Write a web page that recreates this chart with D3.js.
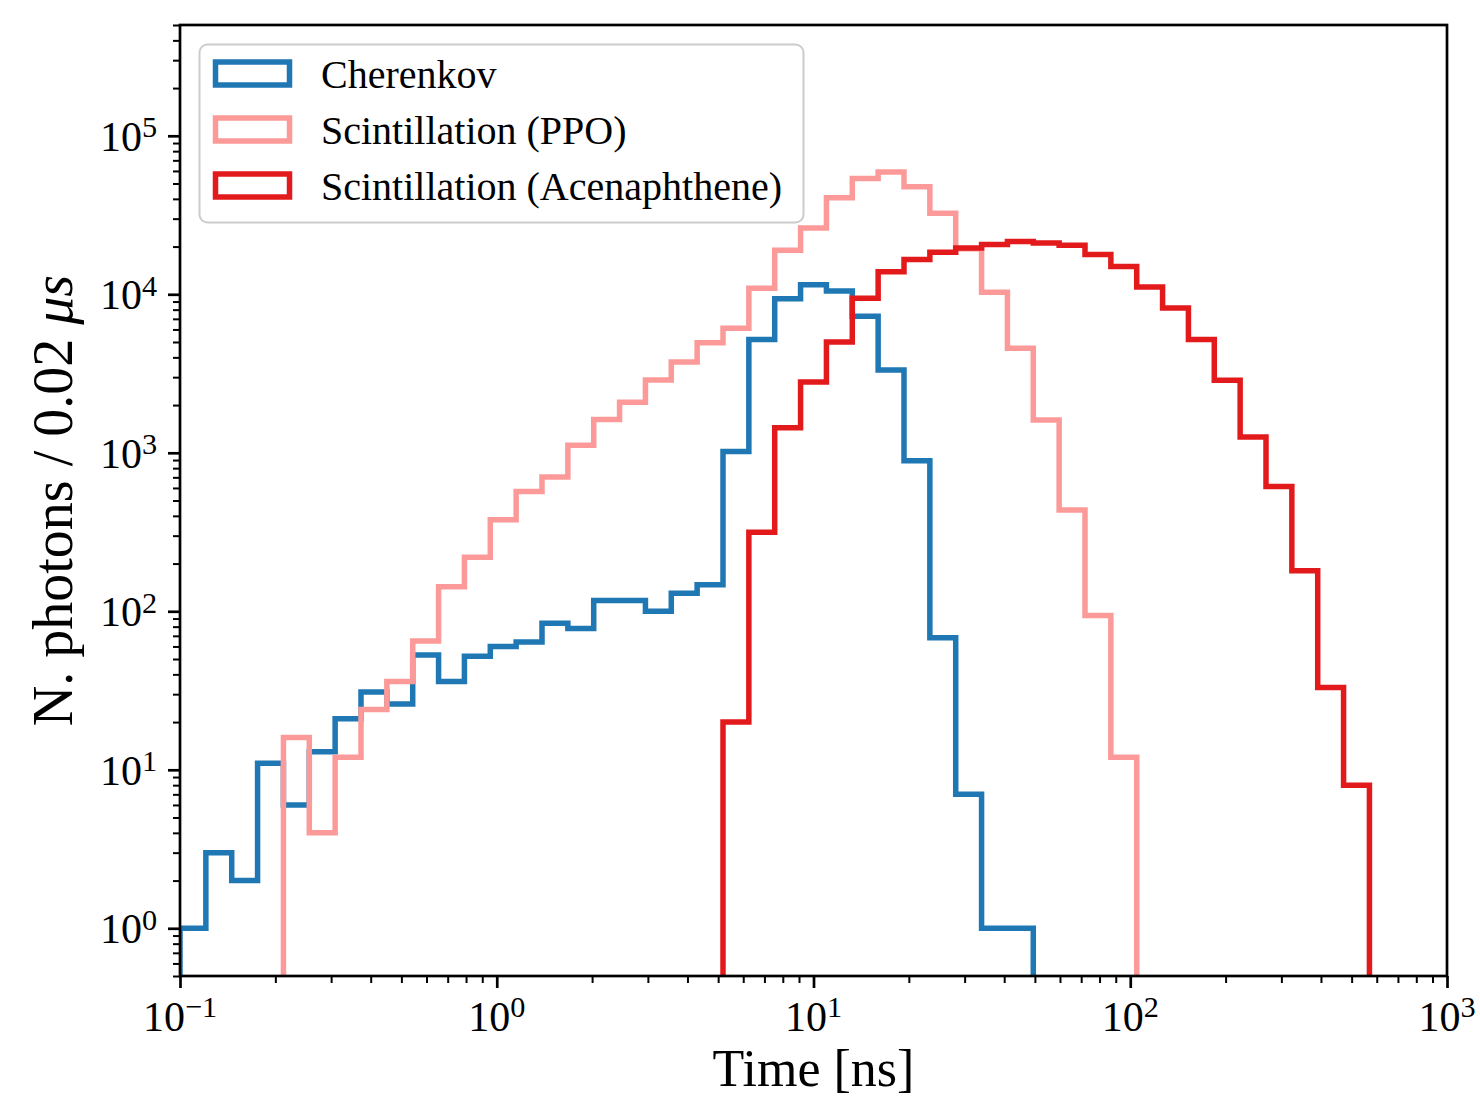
<!DOCTYPE html>
<html>
<head>
<meta charset="utf-8">
<script src="https://cdn.jsdelivr.net/npm/d3@7.9.0/dist/d3.min.js"></script>
<style>
  body { margin: 0; background: #fff; }
  text { font-family: "Liberation Serif", "Times New Roman", serif; fill: #000; }
</style>
</head>
<body>
<svg id="chart" width="1480" height="1102"></svg>
<script>
// bin edges: 50 log-spaced edges from 0.1 to 1000 ns (49 bins)
const binEdges = d3.range(50).map(i => Math.pow(10, -1 + i * 4 / 49));

// photons per bin
const cherenkov = [1, 3, 2, 11, 6, 13, 21, 31, 26, 53, 36, 52, 60, 64, 84, 78, 117, 117, 100, 130,
  147, 1020, 5190, 9370, 11500, 10500, 7280, 3330, 890, 68, 7, 1, 1, 0, 0, 0, 0, 0, 0, 0,
  0, 0, 0, 0, 0, 0, 0, 0, 0];
const ppo = [0, 0, 0, 0, 16, 4, 12, 24, 36, 65, 143, 219, 378, 570, 703, 1116, 1620, 2080, 2880, 3740,
  4940, 6100, 10900, 18950, 26200, 40700, 53800, 59100, 47700, 32500, 19400, 10300, 4560, 1610, 435, 94, 12, 0, 0, 0,
  0, 0, 0, 0, 0, 0, 0, 0, 0];
const acenaphthene = [0, 0, 0, 0, 0, 0, 0, 0, 0, 0, 0, 0, 0, 0, 0, 0, 0, 0, 0, 0,
  0, 20, 315, 1440, 2800, 5000, 9450, 13850, 16600, 18400, 19600, 20600, 21500, 21100, 20400, 17800, 15000, 11100, 8200, 5190,
  2865, 1260, 612, 180, 33, 8, 0, 0, 0];

const seriesNames = ['Cherenkov', 'Scintillation (PPO)', 'Scintillation (Acenaphthene)'];
const seriesColors = ['#1f77b4', '#fb9a99', '#e31a1c'];
const seriesValues = [cherenkov, ppo, acenaphthene];

const xTickExps = [-1, 0, 1, 2, 3];
const yTickExps = [0, 1, 2, 3, 4, 5];

const plotLeft = 180, plotRight = 1447, plotTop = 25, plotBottom = 976;

const svg = d3.select('#chart');

const x = d3.scaleLog().domain([0.1, 1000]).range([plotLeft, plotRight]);
const y = d3.scaleLog().domain([0.5, 5e5]).range([plotBottom, plotTop]);

// clip for the histograms
svg.append('clipPath').attr('id', 'plot-clip')
  .append('rect')
  .attr('x', plotLeft).attr('y', plotTop)
  .attr('width', plotRight - plotLeft).attr('height', plotBottom - plotTop);

// step outline like matplotlib histtype='step'
function stepPoints(vals) {
  const yv = v => (v > 0 ? y(v) : plotBottom + 40);
  let pts = [[x(binEdges[0]), yv(0)]];
  vals.forEach((v, i) => {
    pts.push([x(binEdges[i]), yv(v)]);
    pts.push([x(binEdges[i + 1]), yv(v)]);
  });
  pts.push([x(binEdges[binEdges.length - 1]), yv(0)]);
  return pts;
}

const line = d3.line();
const histGroup = svg.append('g').attr('clip-path', 'url(#plot-clip)');
seriesValues.forEach((vals, i) => {
  histGroup.append('path')
    .attr('d', line(stepPoints(vals)))
    .attr('fill', 'none')
    .attr('stroke', seriesColors[i])
    .attr('stroke-width', 5.5)
    .attr('stroke-linejoin', 'miter');
});

// minor tick values
let xMinor = [];
[0.1, 1, 10, 100].forEach(d => { for (let k = 2; k <= 9; k++) xMinor.push(d * k); });
let yMinor = [];
[0.1, 1, 10, 100, 1000, 1e4, 1e5].forEach(d => {
  for (let k = 2; k <= 9; k++) {
    const v = d * k;
    if (v >= 0.5 && v <= 5e5) yMinor.push(v);
  }
});

const xMajor = xTickExps.map(e => Math.pow(10, e));
const yMajor = yTickExps.map(e => Math.pow(10, e));

function styleAxis(g, width) {
  g.select('.domain').remove();
  g.selectAll('.tick line').attr('stroke', '#000').attr('stroke-width', width);
  g.selectAll('.tick text').remove();
}

svg.append('g').attr('transform', `translate(0,${plotBottom})`)
  .call(d3.axisBottom(x).tickValues(xMinor).tickSize(7).tickSizeOuter(0))
  .call(g => styleAxis(g, 2));
svg.append('g').attr('transform', `translate(0,${plotBottom})`)
  .call(d3.axisBottom(x).tickValues(xMajor).tickSize(12).tickSizeOuter(0))
  .call(g => styleAxis(g, 2.7));
svg.append('g').attr('transform', `translate(${plotLeft},0)`)
  .call(d3.axisLeft(y).tickValues(yMinor).tickSize(7).tickSizeOuter(0))
  .call(g => styleAxis(g, 2));
svg.append('g').attr('transform', `translate(${plotLeft},0)`)
  .call(d3.axisLeft(y).tickValues(yMajor).tickSize(12).tickSizeOuter(0))
  .call(g => styleAxis(g, 2.7));

// spines
svg.append('rect')
  .attr('x', plotLeft).attr('y', plotTop)
  .attr('width', plotRight - plotLeft).attr('height', plotBottom - plotTop)
  .attr('fill', 'none').attr('stroke', '#000').attr('stroke-width', 2.7);

// tick labels with superscripts
function powerLabel(sel, exp) {
  sel.append('tspan').text('10');
  sel.append('tspan')
    .attr('dy', '-0.45em')
    .attr('font-size', '0.72em')
    .text(exp < 0 ? '\u2212' + Math.abs(exp) : exp);
}

xTickExps.forEach(e => {
  svg.append('text')
    .attr('x', x(Math.pow(10, e)))
    .attr('y', 1031)
    .attr('text-anchor', 'middle')
    .attr('font-size', 42)
    .call(powerLabel, e);
});

yTickExps.forEach(e => {
  svg.append('text')
    .attr('x', 157)
    .attr('y', y(Math.pow(10, e)) + 15)
    .attr('text-anchor', 'end')
    .attr('font-size', 42)
    .call(powerLabel, e);
});

// axis labels
svg.append('text')
  .attr('x', (plotLeft + plotRight) / 2)
  .attr('y', 1086)
  .attr('text-anchor', 'middle')
  .attr('font-size', 52)
  .text('Time [ns]');

const yLabel = svg.append('text')
  .attr('transform', `translate(72,${(plotTop + plotBottom) / 2}) rotate(-90)`)
  .attr('text-anchor', 'middle')
  .attr('font-size', 56);
yLabel.append('tspan').text('N. photons / 0.02 ');
yLabel.append('tspan').attr('font-style', 'italic').text('\u03bcs');

// legend
const legend = svg.append('g');
legend.append('rect')
  .attr('x', 199.5).attr('y', 44.5)
  .attr('width', 604).attr('height', 178)
  .attr('rx', 8)
  .attr('fill', '#fff').attr('fill-opacity', 0.8)
  .attr('stroke', '#cccccc').attr('stroke-width', 2);

seriesNames.forEach((name, i) => {
  const cy = 73.5 + i * 56;
  legend.append('rect')
    .attr('x', 215.5).attr('y', cy - 11.5)
    .attr('width', 74).attr('height', 23)
    .attr('fill', 'none')
    .attr('stroke', seriesColors[i])
    .attr('stroke-width', 5.5);
  legend.append('text')
    .attr('x', 321)
    .attr('y', cy + 14)
    .attr('font-size', 40)
    .text(name);
});
</script>
</body>
</html>
